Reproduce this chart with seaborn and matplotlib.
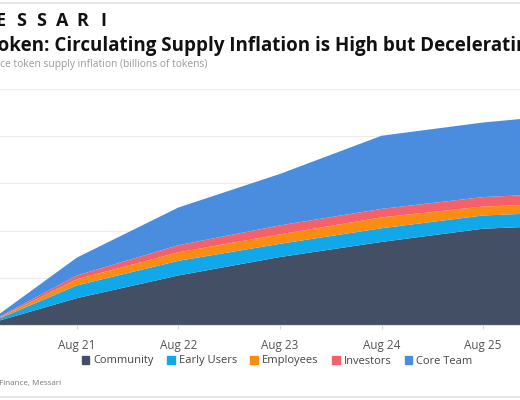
import pandas as pd
import matplotlib.pyplot as plt
import matplotlib.patches as mpatches
from matplotlib.lines import Line2D
import seaborn as sns

# data (one grid step = 1 unit)
dates = ["2020-09-01", "2021-08-01", "2022-08-01", "2023-08-01",
         "2024-08-01", "2025-08-01", "2026-08-01"]
community = [0.0, 0.57, 1.05, 1.44, 1.76, 2.04, 2.13]
early_users = [0.0, 0.27, 0.31, 0.28, 0.29, 0.28, 0.28]
employees = [0.0, 0.13, 0.18, 0.20, 0.23, 0.19, 0.18]
investors = [0.0, 0.08, 0.15, 0.19, 0.18, 0.20, 0.22]
core_team = [0.0, 0.38, 0.80, 1.09, 1.55, 1.58, 1.68]

series_names = ["Community", "Early Users", "Employees", "Investors", "Core Team"]
tick_dates = ["2021-08-01", "2022-08-01", "2023-08-01", "2024-08-01", "2025-08-01"]
tick_labels = ["Aug 21", "Aug 22", "Aug 23", "Aug 24", "Aug 25"]

colors = ["#434f64", "#10a8e8", "#fb8c12", "#f5606a", "#4a8ddf"]


def make_chart():
    sns.set_theme(style="white")
    plt.rcParams['font.family'] = ['Open Sans', 'DejaVu Sans']

    x = pd.to_datetime(dates)
    fig = plt.figure(figsize=(5.2, 4.0), dpi=100)
    ax = fig.add_axes([0.0, 0.1875, 1.0, 0.59])

    ax.stackplot(x, community, early_users, employees, investors, core_team,
                 colors=sns.color_palette(colors), labels=series_names,
                 linewidth=0)

    # the visible region is a crop of a wider chart
    ref = pd.Timestamp("2021-08-01")
    px_per_day = 101.5 / 365.25
    ax.set_xlim(ref - pd.Timedelta(days=77 / px_per_day),
                ref + pd.Timedelta(days=443 / px_per_day))
    ax.set_ylim(0, 5)
    ax.set_yticks(range(6))
    ax.yaxis.grid(True, color="#ececec", linewidth=0.8)
    ax.set_axisbelow(True)
    ax.tick_params(axis="y", left=False, labelleft=False)

    ax.set_xticks(pd.to_datetime(tick_dates))
    ax.set_xticklabels(tick_labels)
    ax.tick_params(axis="x", bottom=True, length=3, width=0.8, color="#d6d6d6",
                   pad=7, labelsize=8.5, labelcolor="#555555")
    for side in ["top", "left", "right"]:
        ax.spines[side].set_visible(False)
    ax.spines["bottom"].set_color("#e0e0e0")
    ax.spines["bottom"].set_linewidth(0.8)

    # header
    for i, ch in enumerate("MESSARI"):
        fig.text((-20 + i * 20.5) / 520, 1 - 21.5 / 400, ch, ha="center", va="center",
                 fontsize=13, fontweight="bold", color="#111111")
    fig.text(-12 / 520, 1 - 46 / 400,
             "Token: Circulating Supply Inflation is High but Decelerating",
             ha="left", va="center", fontsize=13.5, fontweight="bold", color="#111111")
    fig.text(0 / 520, 1 - 64 / 400, "ce token supply inflation (billions of tokens)",
             ha="left", va="center", fontsize=7.4, color="#9a9a9a")

    handles = [mpatches.Patch(color=c, label=n) for c, n in zip(colors, series_names)]
    fig.legend(handles=handles, ncol=5, loc="center",
               bbox_to_anchor=(277 / 520, 1 - 361 / 400), frameon=False,
               fontsize=8, labelcolor="#444444", handlelength=0.7,
               handleheight=0.7, handletextpad=0.35, columnspacing=1.2)

    fig.text(61 / 520, 1 - 383 / 400, "Source: Finance, Messari", ha="right",
             va="center", fontsize=5.8, color="#777777")

    for yy in [3, 397]:
        fig.add_artist(Line2D([0, 1], [1 - yy / 400, 1 - yy / 400],
                              color="#dde1e6", linewidth=1.2))

    fig.savefig("out.png", dpi=100)
    plt.close(fig)


if __name__ == "__main__":
    make_chart()
